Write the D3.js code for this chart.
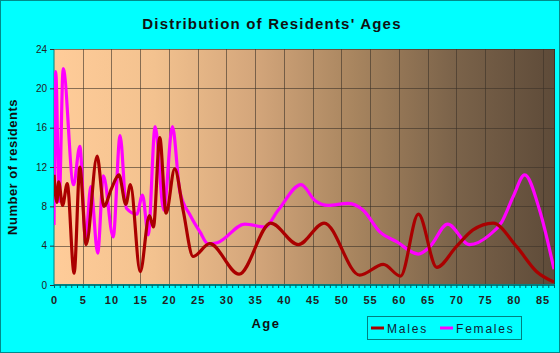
<!DOCTYPE html>
<html>
<head>
<meta charset="utf-8">
<script src="https://cdn.jsdelivr.net/npm/d3@7"></script>
<style>
  body { margin: 0; background: #00ffff; }
  svg { display: block; }
  text { font-family: "Liberation Sans", Arial, sans-serif; }
</style>
</head>
<body>
<script>
// ages / counts (points at the curve's turning points)
var maleAges = [0, 0.5, 0.8, 1.5, 2.3, 3.5, 4.5, 5.6, 7.5, 8.7, 10, 11.3, 12.5, 13.3, 15, 16.6, 17.3, 18.4, 19.5, 21, 22.5, 24.2, 27.1, 32.2, 37.7, 42.5, 47, 53.2, 57.3, 60.3, 63.4, 66.6, 70, 72.9, 76.4, 80.5, 84, 87];
var maleCounts = [11.2, 8.4, 10.5, 8.1, 10.3, 1.2, 12.0, 4.1, 13.1, 8.0, 9.8, 11.2, 8.2, 10.2, 1.35, 7.05, 5.9, 15.0, 7.3, 11.8, 7.5, 2.9, 4.2, 1.1, 6.3, 4.1, 6.3, 1.0, 2.1, 0.9, 7.2, 1.8, 3.9, 5.6, 6.3, 3.9, 1.35, 0.3];

var femaleAges = [0, 0.3, 0.9, 1.6, 3.4, 4.5, 5.5, 6.4, 7.6, 8.6, 10.3, 11.5, 12.6, 14.4, 15.4, 16.4, 17.6, 19.1, 20.6, 21.9, 23.7, 25.4, 26.8, 28.4, 33.2, 36.7, 39, 43, 45.4, 47.7, 51.2, 53.8, 56.7, 59.6, 63.4, 65.4, 68.5, 72.3, 75.8, 77.9, 79.9, 81.9, 84.5, 87];
var femaleCounts = [6.1, 21.7, 8.5, 22.0, 10.2, 14.1, 4.6, 10.0, 3.25, 11.1, 4.9, 15.2, 7.8, 7.2, 9.15, 5.1, 16.1, 7.6, 16.1, 9.5, 7.1, 5.4, 4.2, 4.3, 6.2, 5.9, 7.6, 10.2, 8.6, 8.1, 8.3, 7.6, 5.4, 4.4, 3.15, 3.9, 6.2, 4.1, 5.1, 6.4, 9.0, 11.2, 7.6, 1.6];

var xTicks = [0, 5, 10, 15, 20, 25, 30, 35, 40, 45, 50, 55, 60, 65, 70, 75, 80, 85];
var yTicks = [0, 4, 8, 12, 16, 20, 24];

var W = 560, H = 353;
var pLeft = 54, pRight = 554, pTop = 49, pBottom = 285;

var svg = d3.select('body').append('svg').attr('width', W).attr('height', H);

// outer frame
svg.append('rect').attr('x', 0.5).attr('y', 0.5).attr('width', W - 1).attr('height', H - 1)
   .attr('fill', '#00ffff').attr('stroke', '#008b8b');

var x = d3.scaleLinear().domain([0, 87]).range([pLeft, pRight]);
var y = d3.scaleLinear().domain([0, 24]).range([pBottom, pTop]);

// plot background gradient
var defs = svg.append('defs');
var grad = defs.append('linearGradient').attr('id', 'bg')
   .attr('x1', '0%').attr('y1', '0%').attr('x2', '100%').attr('y2', '0%');
[[0, '#ffcc99'], [0.2, '#f3c28f'], [0.4, '#d4a67b'], [0.6, '#a8855f'], [0.8, '#7b634a'], [1, '#5e4b39']]
  .forEach(function(s) { grad.append('stop').attr('offset', s[0]).attr('stop-color', s[1]); });

svg.append('rect').attr('x', pLeft).attr('y', pTop).attr('width', pRight - pLeft).attr('height', pBottom - pTop)
   .attr('fill', 'url(#bg)');

// grid
svg.append('g').selectAll('line').data(xTicks.slice(1)).enter().append('line')
   .attr('x1', function(d) { return Math.round(x(d)) + 0.5; })
   .attr('x2', function(d) { return Math.round(x(d)) + 0.5; })
   .attr('y1', pTop).attr('y2', pBottom)
   .attr('stroke', '#3c3228').attr('stroke-opacity', 0.6);
svg.append('g').selectAll('line').data(yTicks.slice(1)).enter().append('line')
   .attr('x1', pLeft).attr('x2', pRight)
   .attr('y1', function(d) { return Math.round(y(d)) + 0.5; })
   .attr('y2', function(d) { return Math.round(y(d)) + 0.5; })
   .attr('stroke', '#3c3228').attr('stroke-opacity', 0.6);

// right edge
svg.append('line').attr('x1', pRight + 0.5).attr('x2', pRight + 0.5).attr('y1', pTop).attr('y2', pBottom)
   .attr('stroke', '#3c3228');

// axes
var xAxis = d3.axisBottom(x).tickValues(d3.range(0, 88)).tickSize(3).tickFormat('');
var gx = svg.append('g').attr('transform', 'translate(0,' + pBottom + ')').call(xAxis);
gx.select('.domain').attr('stroke', '#008080').attr('stroke-width', 2).attr('d', 'M' + pLeft + ',0H' + (pRight + 1));
gx.selectAll('.tick line').attr('stroke', '#006060');

var xLab = d3.axisBottom(x).tickValues(xTicks).tickSize(0).tickPadding(11);
var gxl = svg.append('g').attr('transform', 'translate(0,' + pBottom + ')').call(xLab);
gxl.select('.domain').remove();
gxl.selectAll('text').attr('font-size', 11).attr('font-weight', 'bold').attr('fill', '#222')
   .style('letter-spacing', '1px');

var yAxis = d3.axisLeft(y).tickValues(yTicks).tickSize(4).tickPadding(3);
var gy = svg.append('g').attr('transform', 'translate(' + pLeft + ',0)').call(yAxis);
gy.select('.domain').attr('stroke', '#008080').attr('stroke-width', 1).attr('d', 'M0,' + pTop + 'V' + pBottom);
gy.selectAll('.tick line').attr('stroke', '#333');
gy.selectAll('text').attr('font-size', 10).attr('fill', '#222');

// series
var line = d3.line().x(function(d) { return x(d[0]); }).y(function(d) { return y(d[1]); })
   .curve(d3.curveMonotoneX);

var females = femaleAges.map(function(a, i) { return [a, femaleCounts[i]]; });
var males = maleAges.map(function(a, i) { return [a, maleCounts[i]]; });

svg.append('defs').append('clipPath').attr('id', 'clip').append('rect')
   .attr('x', pLeft).attr('y', pTop - 5).attr('width', pRight - pLeft).attr('height', pBottom - pTop + 5);

svg.append('path').datum(females).attr('d', line).attr('fill', 'none')
   .attr('stroke', '#ff00ff').attr('stroke-width', 3.2).attr('clip-path', 'url(#clip)');
svg.append('path').datum(males).attr('d', line).attr('fill', 'none')
   .attr('stroke', '#aa0000').attr('stroke-width', 3.2).attr('clip-path', 'url(#clip)');

// titles
svg.append('text').attr('x', 272).attr('y', 29).attr('text-anchor', 'middle')
   .attr('font-size', 15).attr('font-weight', 'bold').style('letter-spacing', '1.2px')
   .attr('fill', '#111').text("Distribution of Residents' Ages");

svg.append('text').attr('x', 266).attr('y', 328).attr('text-anchor', 'middle')
   .attr('font-size', 13).attr('font-weight', 'bold').style('letter-spacing', '1.5px')
   .attr('fill', '#111').text('Age');

svg.append('text').attr('transform', 'translate(17,167) rotate(-90)').attr('text-anchor', 'middle')
   .attr('font-size', 13).attr('font-weight', 'bold').style('letter-spacing', '0.5px')
   .attr('fill', '#111').text('Number of residents');

// legend
var legend = svg.append('g');
legend.append('rect').attr('x', 367.5).attr('y', 316.5).attr('width', 154).attr('height', 23)
   .attr('fill', 'none').attr('stroke', '#008080');
var items = [['Males', '#aa0000', 371], ['Females', '#ff00ff', 440]];
items.forEach(function(it) {
  legend.append('line').attr('x1', it[2]).attr('x2', it[2] + 13).attr('y1', 328).attr('y2', 328)
     .attr('stroke', it[1]).attr('stroke-width', 3);
  legend.append('text').attr('x', it[2] + 16).attr('y', 333).attr('font-size', 12)
     .style('letter-spacing', '1.8px').attr('fill', '#123').text(it[0]);
});
</script>
</body>
</html>
